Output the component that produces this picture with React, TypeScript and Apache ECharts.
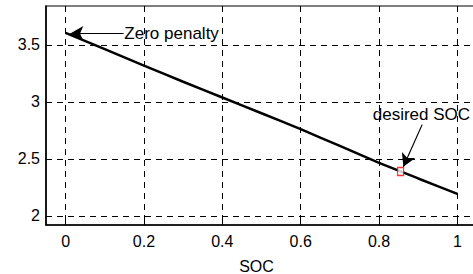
import React, { useEffect, useRef } from "react";
import * as echarts from "echarts";

const socValues = [0, 0.1, 0.2, 0.3, 0.4, 0.5, 0.6, 0.7, 0.8, 0.9, 1.0];
const costValues = [3.605, 3.462, 3.318, 3.176, 3.038, 2.9, 2.76, 2.613, 2.465, 2.328, 2.193];
const xTicks = [0, 0.2, 0.4, 0.6, 0.8, 1];
const yTicks = [2, 2.5, 3, 3.5];
const desiredPoint = [0.855, 2.39];
const zeroLabelAt = [0.15, 3.6];
const zeroArrowFrom = [0.148, 3.6];
const zeroArrowTo = [0.012, 3.6];
const desiredLabelAt = [0.784, 2.89];
const desiredArrowFrom = [0.91, 2.8];
const desiredArrowTo = [0.862, 2.43];

const FONT = "Liberation Sans, Arial, sans-serif";

export default function App() {
  const ref = useRef<HTMLDivElement>(null);
  useEffect(() => {
    if (!ref.current) return;
    const chart = echarts.init(ref.current, undefined, { renderer: "svg" });
    const grid = { type: [6, 5], color: "#000", width: 1 };
    chart.setOption({
      animation: false,
      backgroundColor: "#fff",
      textStyle: { fontFamily: FONT },
      grid: {
        left: 46,
        top: 6,
        width: 431,
        height: 219,
        outerBoundsMode: "none",
        containLabel: false,
        show: true,
        borderColor: "#000",
        borderWidth: 1.2,
        backgroundColor: "transparent",
      },
      xAxis: {
        type: "value",
        min: -0.05,
        max: 1.05,
        name: "SOC",
        nameLocation: "middle",
        nameGap: 33,
        nameTextStyle: { color: "#000", fontSize: 16, fontFamily: FONT, padding: [0, 10, 0, 0] },
        axisLine: { show: true, onZero: false, lineStyle: { color: "#000", width: 1.5 } },
        axisTick: { show: true, inside: true, length: 4, customValues: xTicks, lineStyle: { color: "#000" } },
        axisLabel: { customValues: xTicks, color: "#000", fontSize: 16, margin: 8, fontFamily: FONT },
        splitLine: { show: true, lineStyle: grid },
      },
      yAxis: {
        type: "value",
        min: 1.92,
        max: 3.84,
        axisLine: { show: true, onZero: false, lineStyle: { color: "#000", width: 1.5 } },
        axisTick: { show: true, inside: true, length: 4, customValues: yTicks, lineStyle: { color: "#000" } },
        axisLabel: { customValues: yTicks, color: "#000", fontSize: 16, margin: 6, fontFamily: FONT },
        splitLine: { show: true, lineStyle: grid },
      },
      series: [
        {
          type: "line",
          data: socValues.map((x, i) => [x, costValues[i]]),
          showSymbol: false,
          symbol: "none",
          smooth: 0.2,
          lineStyle: { color: "#000", width: 2.5 },
          z: 3,
          markLine: {
            silent: true,
            symbol: ["none", "arrow"],
            symbolSize: [11, 13],
            label: { show: false },
            lineStyle: { color: "#000", width: 1.2, type: "solid" },
            data: [
              [{ coord: zeroArrowFrom }, { coord: zeroArrowTo }],
              [{ coord: desiredArrowFrom }, { coord: desiredArrowTo }],
            ],
          },
          markPoint: {
            silent: true,
            symbol: "circle",
            symbolSize: 0,
            data: [
              {
                coord: zeroLabelAt,
                label: {
                  show: true,
                  position: [0, 0],
                  align: "left",
                  verticalAlign: "middle",
                  formatter: "Zero penalty",
                  color: "#000",
                  fontSize: 17,
                  fontFamily: FONT,
                },
              },
              {
                coord: desiredLabelAt,
                label: {
                  show: true,
                  position: [0, 0],
                  align: "left",
                  verticalAlign: "middle",
                  formatter: "desired SOC",
                  color: "#000",
                  fontSize: 17,
                  fontFamily: FONT,
                },
              },
            ],
          },
        },
        {
          type: "scatter",
          data: [desiredPoint],
          symbol: "rect",
          symbolSize: [6, 8],
          itemStyle: { color: "#fff", borderColor: "#ff0000", borderWidth: 1.3 },
          z: 4,
        },
      ],
    });
    return () => chart.dispose();
  }, []);
  return (
    <div
      ref={ref}
      style={{ position: "absolute", left: 0, top: 0, width: 473, height: 274, background: "#fff" }}
    />
  );
}
